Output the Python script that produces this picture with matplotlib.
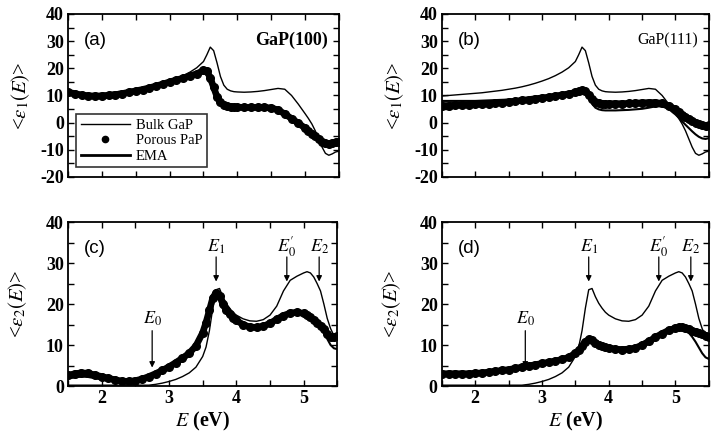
import matplotlib
matplotlib.use("Agg")
import matplotlib.pyplot as plt
from matplotlib.lines import Line2D
from matplotlib.ticker import MultipleLocator

plt.rcParams['font.family'] = ['Liberation Serif', 'DejaVu Serif']
plt.rcParams['mathtext.fontset'] = 'stix'
plt.rcParams['axes.unicode_minus'] = False

# ---------------- data ----------------
energy = [1.5, 1.6, 1.7, 1.8, 1.9, 2.0, 2.1, 2.2, 2.3, 2.4, 2.5, 2.6, 2.7, 2.8, 2.9,
          3.0, 3.1, 3.2, 3.3, 3.4, 3.5, 3.55, 3.6, 3.65, 3.7, 3.75, 3.8, 3.85, 3.9, 3.95,
          4.0, 4.1, 4.2, 4.3, 4.4, 4.5, 4.6, 4.7, 4.8, 4.9, 5.0, 5.05, 5.1, 5.15, 5.2,
          5.25, 5.3, 5.35, 5.4, 5.45, 5.5]

# <eps1> bulk GaP
bulk_e1 = [9.8, 10.0, 10.2, 10.4, 10.6, 10.8, 11.0, 11.3, 11.6, 11.9, 12.3, 12.7, 13.2, 13.8, 14.5,
           15.3, 16.2, 17.3, 18.6, 20.2, 22.5, 25.0, 27.8, 26.5, 22.0, 17.0, 13.8, 12.3, 11.7, 11.4,
           11.3, 11.2, 11.3, 11.5, 11.8, 12.2, 12.6, 12.3, 10.0, 6.8, 3.3, 1.5, -0.5, -3.0, -6.0,
           -9.0, -11.3, -12.0, -11.5, -10.8, -10.5]
# <eps1> porous GaP(100)
porous_a = [11.2, 10.7, 10.2, 9.9, 9.8, 9.8, 10.0, 10.3, 10.7, 11.2, 11.7, 12.2, 12.8, 13.5, 14.2,
            15.0, 15.7, 16.4, 17.2, 18.0, 19.2, 19.0, 16.5, 13.0, 9.5, 7.5, 6.6, 6.2, 5.9, 5.8,
            5.7, 5.6, 5.6, 5.6, 5.6, 5.4, 4.7, 3.2, 1.5, -0.2, -2.0, -3.0, -4.0, -5.0, -6.2,
            -7.0, -7.5, -7.7, -7.5, -7.2, -7.0]
ema_a = [10.8, 10.4, 10.0, 9.7, 9.6, 9.7, 9.9, 10.2, 10.6, 11.0, 11.5, 12.0, 12.6, 13.2, 13.9,
         14.6, 15.4, 16.1, 16.9, 17.8, 18.7, 18.8, 17.0, 13.8, 10.0, 7.8, 6.6, 6.0, 5.6, 5.4,
         5.3, 5.2, 5.2, 5.2, 5.2, 5.0, 4.3, 2.8, 1.0, -0.8, -2.6, -3.6, -4.6, -5.7, -6.8,
         -7.8, -8.6, -9.0, -8.8, -8.3, -8.0]
# <eps1> porous GaP(111)
porous_b = [6.3, 6.3, 6.4, 6.5, 6.6, 6.7, 6.8, 7.0, 7.2, 7.4, 7.6, 7.9, 8.2, 8.5, 8.8,
            9.1, 9.4, 9.8, 10.2, 10.6, 11.1, 11.5, 11.9, 11.6, 10.3, 8.8, 7.6, 7.2, 7.0, 7.0,
            7.0, 7.0, 7.0, 7.1, 7.2, 7.3, 7.4, 7.4, 7.1, 6.2, 4.9, 4.0, 3.0, 2.2, 1.4,
            0.6, -0.1, -0.6, -1.0, -1.2, -1.0]
ema_b = [8.0, 8.0, 8.0, 8.0, 8.0, 8.0, 8.1, 8.2, 8.3, 8.4, 8.5, 8.6, 8.8, 9.0, 9.2,
         9.4, 9.7, 10.0, 10.4, 10.8, 11.3, 11.6, 12.0, 11.5, 9.5, 7.0, 5.5, 4.9, 4.6, 4.5,
         4.5, 4.5, 4.6, 4.7, 4.9, 5.1, 5.5, 6.0, 6.0, 5.0, 3.0, 1.8, 0.5, -0.8, -2.0,
         -3.2, -4.3, -5.2, -5.8, -6.0, -5.7]

# <eps2> bulk GaP
bulk_e2 = [0.2, 0.2, 0.2, 0.2, 0.2, 0.2, 0.2, 0.2, 0.2, 0.2, 0.2, 0.2, 0.2, 0.4, 0.7,
           1.1, 1.6, 2.3, 3.2, 4.6, 7.2, 9.5, 13.5, 19.0, 23.5, 23.8, 21.8, 20.2, 19.0, 18.0,
           17.3, 16.4, 15.9, 15.8, 16.2, 17.3, 19.5, 23.2, 25.8, 26.8, 27.6, 27.9, 27.6, 26.6, 25.0,
           23.2, 20.0, 16.5, 14.0, 12.3, 11.5]
# <eps2> porous GaP(100)
porous_c = [2.6, 3.0, 3.2, 3.1, 2.7, 2.3, 1.9, 1.5, 1.2, 1.1, 1.3, 1.7, 2.3, 3.0, 3.8,
            4.7, 5.7, 6.8, 8.0, 9.8, 13.0, 15.5, 18.5, 21.5, 22.8, 22.0, 20.0, 18.5, 17.5, 16.7,
            16.0, 15.0, 14.4, 14.3, 14.6, 15.3, 16.3, 17.2, 17.8, 18.0, 17.7, 17.3, 16.8, 16.2, 15.5,
            14.7, 13.8, 12.8, 12.0, 12.0, 12.2]
ema_c = [1.8, 2.1, 2.3, 2.2, 1.9, 1.6, 1.3, 1.1, 1.0, 1.0, 1.2, 1.6, 2.1, 2.7, 3.4,
         4.2, 5.1, 6.2, 7.5, 9.3, 12.3, 14.8, 18.0, 21.5, 23.3, 22.6, 20.6, 19.0, 17.9, 17.0,
         16.3, 15.3, 14.7, 14.6, 14.9, 15.6, 16.6, 17.5, 18.1, 18.3, 18.0, 17.6, 17.0, 16.3, 15.4,
         14.3, 13.0, 11.5, 10.0, 9.2, 9.0]
# <eps2> porous GaP(111)
porous_d = [3.0, 3.0, 3.0, 3.0, 3.0, 3.1, 3.2, 3.4, 3.6, 3.8, 4.0, 4.3, 4.6, 4.9, 5.2,
            5.5, 5.8, 6.1, 6.5, 7.0, 8.0, 8.7, 9.7, 10.8, 11.4, 11.2, 10.6, 10.1, 9.8, 9.5,
            9.3, 9.0, 8.9, 9.0, 9.3, 10.0, 10.9, 11.9, 12.8, 13.6, 14.1, 14.3, 14.3, 14.1, 13.8,
            13.5, 13.2, 12.9, 12.6, 12.3, 12.0]
ema_d = [2.8, 2.8, 2.8, 2.9, 2.9, 3.0, 3.1, 3.3, 3.5, 3.7, 3.9, 4.2, 4.5, 4.8, 5.1,
         5.4, 5.7, 6.0, 6.4, 6.9, 7.8, 8.6, 9.6, 10.7, 11.2, 11.0, 10.4, 9.9, 9.6, 9.3,
         9.1, 8.8, 8.7, 8.8, 9.1, 9.8, 10.7, 11.7, 12.6, 13.4, 13.9, 14.0, 13.9, 13.8, 13.0,
         12.0, 10.8, 9.4, 8.0, 7.0, 6.6]

# critical point labels and energies
cp_labels = [r"$E_0$", r"$E_1$", r"$E_0^{\prime}$", r"$E_2$"]
cp_energy = [2.75, 3.70, 4.75, 5.23]

panel_letters = ["(a)", "(b)", "(c)", "(d)"]
sample_names = ["GaP(100)", "GaP(111)"]
legend_labels = ["Bulk GaP", "Porous PaP", "EMA"]

# ---------------- figure ----------------
fig = plt.figure(figsize=(7.15, 4.37), dpi=100)
pos = {
    'a': [0.0951, 0.595, 0.379, 0.373],
    'b': [0.618, 0.595, 0.3734, 0.373],
    'c': [0.0951, 0.1167, 0.3767, 0.375],
    'd': [0.618, 0.1167, 0.3734, 0.375],
}
axes = {k: fig.add_axes(v) for k, v in pos.items()}

series = {
    'a': (bulk_e1, porous_a, ema_a),
    'b': (bulk_e1, porous_b, ema_b),
    'c': (bulk_e2, porous_c, ema_c),
    'd': (bulk_e2, porous_d, ema_d),
}

for i, (k, ax) in enumerate(axes.items()):
    bulk, por, ema = series[k]
    ax.plot(energy, por, color='black', lw=4.8, zorder=2, solid_capstyle='round',
            solid_joinstyle='round')
    ax.plot(energy, por, 'o', color='black', ms=5.5, zorder=2)
    ax.plot(energy, ema, color='black', lw=1.5, zorder=3)
    ax.plot(energy, bulk, color='black', lw=1.0, zorder=4)

    ax.set_xlim(1.5, 5.5)
    ax.xaxis.set_major_locator(MultipleLocator(1))
    ax.xaxis.set_minor_locator(MultipleLocator(0.5))
    ax.yaxis.set_major_locator(MultipleLocator(10))
    ax.yaxis.set_minor_locator(MultipleLocator(5))
    ax.tick_params(which='both', direction='in', top=True, right=True, width=1.0)
    ax.tick_params(which='major', length=4.5, labelsize=13, pad=3)
    ax.tick_params(which='minor', length=4.5)
    for sp in ax.spines.values():
        sp.set_linewidth(1.3)
    for lab in ax.get_xticklabels() + ax.get_yticklabels():
        lab.set_fontweight('bold')

    ax.text(0.06, 0.84, panel_letters[i], transform=ax.transAxes, fontsize=13.5,
            family='Liberation Sans', va='center', ha='left')

    if k in ('a', 'b'):
        ax.set_ylim(-20, 40)
        ax.set_xticklabels([])
        ax.set_ylabel("<" + r"$\varepsilon_1(E)$" + ">", fontsize=15, labelpad=6)
        ax.text(0.96, 0.84, sample_names[i], transform=ax.transAxes,
                fontsize=13 if k == 'a' else 11.5,
                fontweight='bold' if k == 'a' else 'normal',
                va='center', ha='right')
    else:
        ax.set_ylim(0, 40)
        ax.set_ylabel("<" + r"$\varepsilon_2(E)$" + ">", fontsize=15, labelpad=12)
        ax.set_xlabel(r"$E$ (eV)", fontsize=14.5, labelpad=2, fontweight='bold')
        for lbl, e in zip(cp_labels, cp_energy):
            if lbl == r"$E_0$":
                top, head, ty = 13.5, 4.5, 16.5
            else:
                top, head, ty = 31.5, 25.5, 34.0
            ax.annotate("", xy=(e, head), xytext=(e, top),
                        arrowprops=dict(arrowstyle='-|>', color='black', lw=0.9,
                                        mutation_scale=8, shrinkA=0, shrinkB=0))
            ax.text(e, ty, lbl, fontsize=13, ha='center', va='center')

# legend in panel (a)
handles = [Line2D([], [], color='black', lw=1.0),
           Line2D([], [], color='black', marker='o', ls='none', ms=4.5),
           Line2D([], [], color='black', lw=2.0)]
leg = axes['a'].legend(handles, legend_labels, loc='lower left', bbox_to_anchor=(0.03, 0.06),
                       fontsize=10.5, frameon=True, fancybox=False, handlelength=3.4,
                       handletextpad=0.4, labelspacing=0.15, borderpad=0.3, borderaxespad=0)
leg.get_frame().set_edgecolor('black')
leg.get_frame().set_linewidth(1.2)

fig.savefig("out.png", dpi=100)
